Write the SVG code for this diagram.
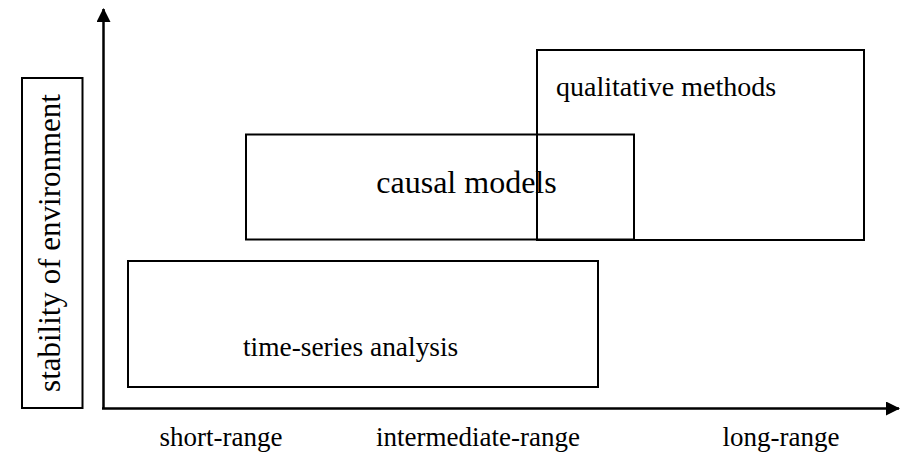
<svg xmlns="http://www.w3.org/2000/svg" width="902" height="458" viewBox="0 0 902 458">
<defs>
<style>
.box{fill:none;stroke:#000;stroke-width:2}
.ax{fill:none;stroke:#000;stroke-width:2.5}
.t{font-family:"Liberation Serif","Times New Roman",serif;font-size:27px;fill:#000}
</style>
<marker id="ah" viewBox="0 0 14 14" refX="13" refY="7" markerWidth="14" markerHeight="14" markerUnits="userSpaceOnUse" orient="auto">
<path d="M0,0 L14,7 L0,14 Z" fill="#000"/>
</marker>
</defs>
<rect width="902" height="458" fill="#fff"/>
<g id="ylabel">
<rect class="box" x="22" y="78" width="60.5" height="330"/>
<text class="t" style="font-size:31px" transform="translate(60,243) rotate(-90)" text-anchor="middle">stability of environment</text>
</g>
<g id="connectors">
<line class="ax" x1="103.5" y1="409" x2="103.5" y2="9" marker-end="url(#ah)"/>
<line class="ax" x1="102" y1="408.5" x2="899" y2="408.5" marker-end="url(#ah)"/>
</g>
<g id="qualitative">
<rect class="box" x="537" y="50" width="327" height="190"/>
<text class="t" style="font-size:28px" x="556" y="96">qualitative methods</text>
</g>
<g id="causal">
<rect class="box" x="246" y="134.5" width="388" height="105"/>
<text class="t" style="font-size:32px" x="466.5" y="193" text-anchor="middle">causal models</text>
</g>
<g id="timeseries">
<rect class="box" x="128" y="261" width="470" height="126"/>
<text class="t" style="font-size:27.4px" x="243" y="356">time-series analysis</text>
</g>
<g id="xlabels">
<text class="t" x="221" y="446" text-anchor="middle">short-range</text>
<text class="t" x="478" y="446" text-anchor="middle">intermediate-range</text>
<text class="t" x="781" y="446" text-anchor="middle">long-range</text>
</g>
</svg>
